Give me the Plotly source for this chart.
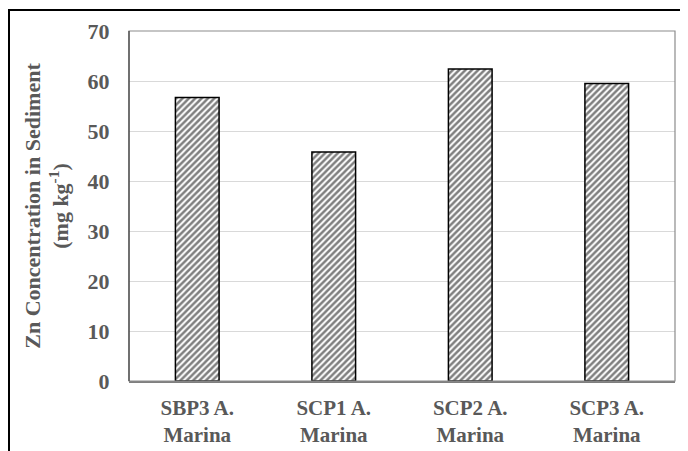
import plotly.graph_objects as go

categories = ["SBP3 A.<br>Marina", "SCP1 A.<br>Marina", "SCP2 A.<br>Marina", "SCP3 A.<br>Marina"]
values = [56.7, 45.8, 62.4, 59.5]
y_ticks = [0, 10, 20, 30, 40, 50, 60, 70]

# page has an 8px body margin; compensate so plot area lands at page (129..675, 31..381)
OFF = 8
W, H = 688 - OFF, 451 - OFF
L, R, T, B = 129 - OFF, 13, 31 - OFF, 70
pw, ph = W - L - R, H - T - B

fig = go.Figure()
fig.add_trace(go.Bar(
    x=categories, y=values,
    marker=dict(color="white",
                line=dict(color="black", width=1.5),
                pattern=dict(shape="/", fgcolor="black", bgcolor="white", size=4.5, solidity=0.55)),
))

font_gray = "#595959"
yf = dict(size=22, family="Liberation Serif", color=font_gray, weight="bold")
xf = dict(size=21, family="Liberation Serif", color=font_gray, weight="bold")
fig.update_layout(
    width=W, height=H,
    margin=dict(l=L, r=R, t=T, b=B, autoexpand=False),
    paper_bgcolor="white", plot_bgcolor="white",
    bargap=0.68,
    showlegend=False,
    font=dict(family="Liberation Serif", color=font_gray),
    xaxis=dict(showline=True, linecolor="#7f7f7f", linewidth=1.5, automargin=False,
               tickfont=xf, ticks="outside", ticklen=7, tickcolor="white", showgrid=False),
    yaxis=dict(range=[0, 70], tickvals=y_ticks, showgrid=True, gridcolor="#d9d9d9",
               showline=False, zeroline=False, ticks="outside", ticklen=14, tickcolor="white",
               tickfont=yf, automargin=False,
               title=dict(text="Zn Concentration in Sediment<br>(mg kg<sup>-1</sup>)",
                          font=yf, standoff=12)),
)

# plot area border
fig.add_shape(type="rect", xref="paper", yref="paper", x0=0, x1=1, y0=0, y1=1,
              line=dict(color="#8c8c8c", width=1.2), layer="above")
fig.add_shape(type="line", xref="paper", yref="paper", x0=0, x1=0, y0=0, y1=1,
              line=dict(color="#404040", width=1.2), layer="above")
# outer chart border (left and top visible)
fig.add_shape(type="rect", xref="paper", yref="paper",
              x0=(1 - L) / pw, x1=(W + 20 - L) / pw,
              y0=-(H + 20 - T - ph) / ph, y1=(T + ph - 2) / ph,
              line=dict(color="black", width=2), layer="above")

fig.write_html("out.html")
